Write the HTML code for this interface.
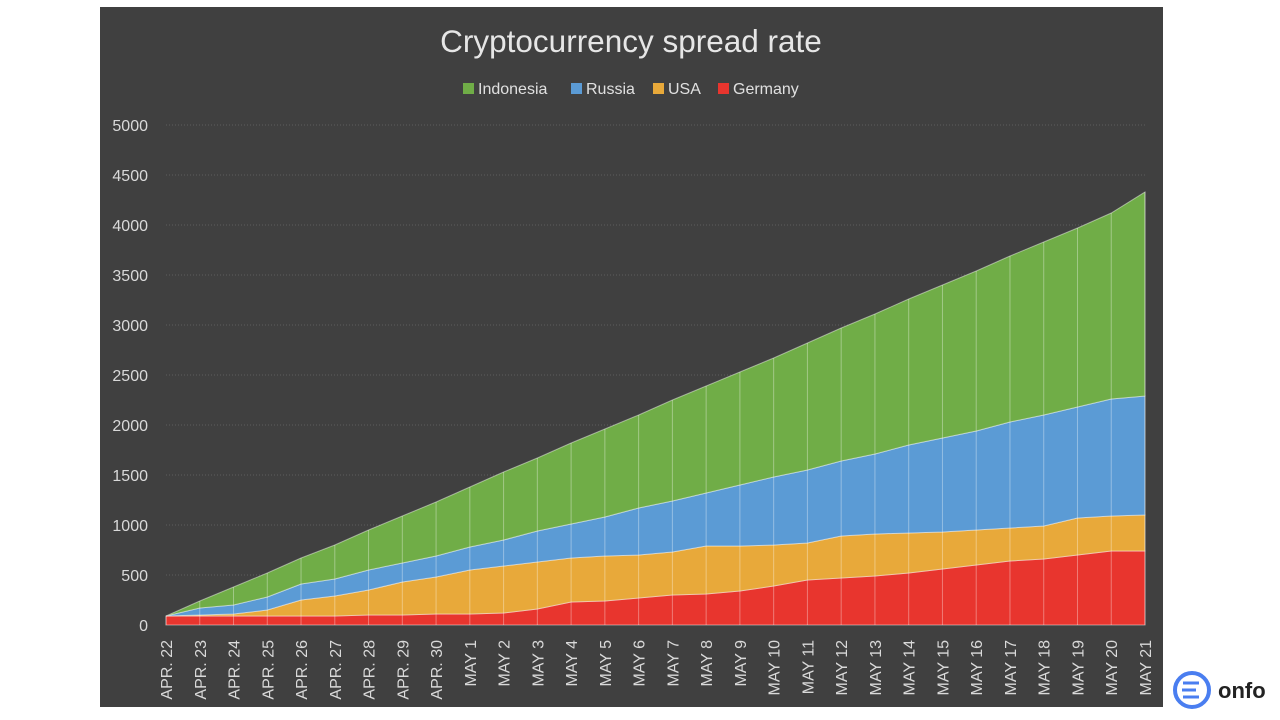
<!DOCTYPE html>
<html><head><meta charset="utf-8"><style>
body{margin:0;width:1280px;height:720px;background:#fff;overflow:hidden;font-family:"Liberation Sans",sans-serif}
#panel{position:absolute;left:100px;top:7px;width:1063px;height:700px;background:#404040}
</style></head><body>
<div id="panel"></div>
<svg id="chart" width="1280" height="720" style="position:absolute;left:0;top:0">
<text x="631" y="52" text-anchor="middle" font-size="31.5" fill="#e6e6e6">Cryptocurrency spread rate</text>
<g id="grid"></g><g id="areas"></g><g id="axes"></g><g id="legend"></g>
<g>
<circle cx="1192" cy="690" r="17" fill="none" stroke="#4a7ef0" stroke-width="4"/>
<path d="M1183 683 h16 M1182 690 h14 M1183 697 h16" stroke="#4a7ef0" stroke-width="3"/>
<text x="1218" y="698" font-size="22" font-weight="bold" fill="#222">onfo</text>
</g>
</svg>
<script>
const categories=["APR. 22","APR. 23","APR. 24","APR. 25","APR. 26","APR. 27","APR. 28","APR. 29","APR. 30","MAY 1","MAY 2","MAY 3","MAY 4","MAY 5","MAY 6","MAY 7","MAY 8","MAY 9","MAY 10","MAY 11","MAY 12","MAY 13","MAY 14","MAY 15","MAY 16","MAY 17","MAY 18","MAY 19","MAY 20","MAY 21"];
const germany=[90,90,90,90,90,90,100,100,110,110,120,160,230,240,270,300,310,340,390,450,470,490,520,560,600,640,660,700,740,740];
const usa=[0,10,20,60,160,200,250,330,370,440,470,470,440,450,430,430,480,450,410,370,420,420,400,370,350,330,330,370,350,360];
const russia=[0,70,90,130,160,170,200,190,210,230,260,310,340,390,470,510,530,610,680,730,750,800,880,940,990,1060,1110,1110,1170,1190];
const indonesia=[0,70,180,240,260,340,400,470,540,600,680,730,810,880,930,1010,1070,1130,1190,1270,1330,1400,1460,1530,1600,1660,1730,1790,1860,2040];
const yTicks=[0,500,1000,1500,2000,2500,3000,3500,4000,4500,5000];
const NS="http://www.w3.org/2000/svg";
const x0=166,x1=1145,y0=625,yTop=125;
const X=i=>x0+i*(x1-x0)/(categories.length-1);
const Y=v=>y0-v*(y0-yTop)/5000;
function mk(t,a,p){const e=document.createElementNS(NS,t);for(const k in a)e.setAttribute(k,a[k]);p.appendChild(e);return e;}
const grid=document.getElementById('grid'),axes=document.getElementById('axes'),areas=document.getElementById('areas'),legend=document.getElementById('legend');
yTicks.forEach(v=>{
 if(v>0){const l=mk('line',{x1:x0,x2:x1,y1:Y(v),y2:Y(v),stroke:'#5e5e5e','stroke-dasharray':'1,2'},grid);
 
 }
 const t=mk('text',{x:148,y:Y(v)+6,'text-anchor':'end','font-size':16,fill:'#d9d9d9'},axes);t.textContent=v;
 
 
});
categories.forEach((c,i)=>{
 const t=mk('text',{transform:`translate(${X(i)+6},640) rotate(-90)`,'text-anchor':'end','font-size':16,fill:'#d9d9d9'},axes);t.textContent=c;
 
 
});
const series=[["Germany",germany,"#e8352e"],["USA",usa,"#e8a93a"],["Russia",russia,"#5b9bd5"],["Indonesia",indonesia,"#70ad47"]];
let base=categories.map(()=>0);
series.forEach(([name,vals,col])=>{
 const top=base.map((b,i)=>b+vals[i]);
 let d='M'+top.map((v,i)=>X(i)+','+Y(v)).join(' L');
 for(let i=base.length-1;i>=0;i--)d+=' L'+X(i)+','+Y(base[i]);
 const p=mk('path',{d:d+'Z',fill:col,stroke:'rgba(255,255,255,0.45)','stroke-width':1},areas);
 
 
 base=top;
});
categories.forEach((c,i)=>{
 const l=mk('line',{x1:X(i),x2:X(i),y1:y0,y2:Y(base[i]),stroke:'rgba(255,255,255,0.35)','stroke-width':1},areas);
 
 
});
const leg=[["Indonesia","#70ad47",463],["Russia","#5b9bd5",571],["USA","#e8a93a",653],["Germany","#e8352e",718]];
leg.forEach(([n,c,x])=>{
 const g=mk('g',{},legend);
 
 
 mk('rect',{x:x,y:83,width:11,height:11,fill:c},g);
 const t=mk('text',{x:x+15,y:94,'font-size':16,fill:'#e0e0e0'},g);t.textContent=n;
});
</script>
</body></html>
